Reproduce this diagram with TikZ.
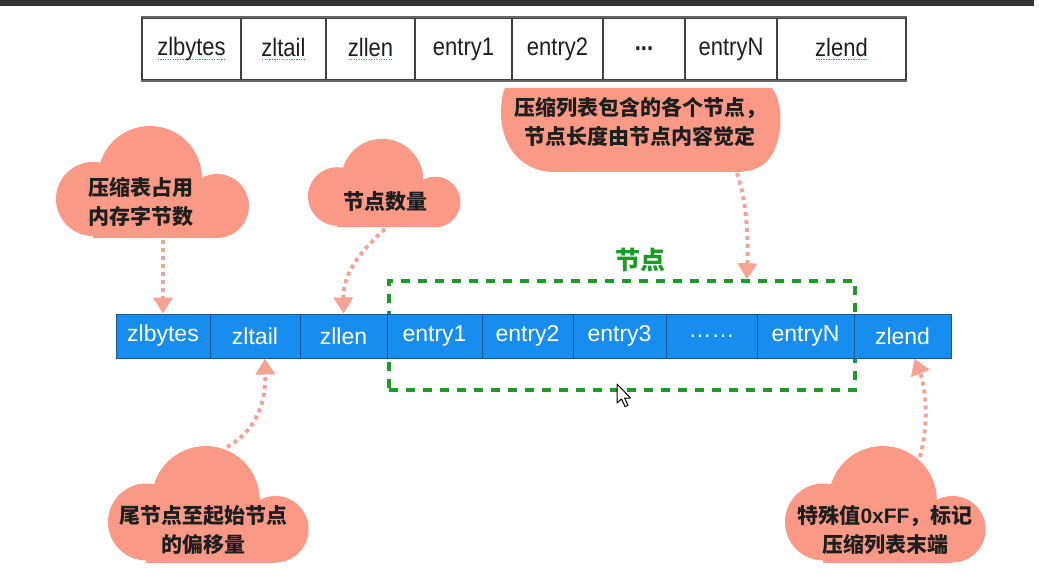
\documentclass[tikz,border=0pt]{standalone}
\usepackage{fontspec}
\setmainfont{Liberation Sans}
\newfontfamily\cjk{Noto Sans CJK SC}
\usetikzlibrary{arrows.meta}
\definecolor{salmon}{RGB}{250,154,134}
\definecolor{dotc}{RGB}{247,163,147}
\definecolor{barblue}{RGB}{24,141,240}
\definecolor{barline}{RGB}{22,88,150}
\definecolor{grpgreen}{RGB}{28,155,38}
\definecolor{txt}{RGB}{30,30,30}
\newcommand\sq[1]{\setbox0=\hbox{#1}\rlap{\color{red!75}\raisebox{-3.5pt}{\hbox to \wd0{\xleaders\hbox to 2.4pt{\hss\rule{1.2pt}{0.9pt}\hss}\hfill}}}\box0}
\newcommand\stretchtxt[1]{\scalebox{1}[1.15]{#1}}
\newcommand\mycloud[3]{%
  \begin{scope}[shift={(#1,#2)},scale=#3]
    \fill[salmon] (37,74) circle[radius=37pt];
    \fill[salmon] (161,81) circle[radius=32pt];
    \fill[salmon] (94,53) circle[radius=52pt];
    \fill[salmon] (37,60) rectangle (161,113);
  \end{scope}}
\begin{document}
\begin{tikzpicture}[x=1pt,y=-1pt,
  tcell/.style={draw=black!75, line width=1.5pt, minimum height=62pt, inner sep=0pt,
    font=\fontsize{22}{22}\selectfont, text=txt},
  bcell/.style={draw=barline, line width=1pt, fill=barblue, minimum height=44pt, inner sep=0pt,
    text=white, font=\fontsize{23}{23}\selectfont},
  ctext/.style={align=center, text=txt, font=\cjk\bfseries\fontsize{21}{29}\selectfont, inner sep=0pt},
  darrow/.style={dotc, line width=4pt, dash pattern=on 4pt off 4pt, -{Triangle[width=19pt,length=16pt]}},
  grpbox/.style={draw=grpgreen, line width=3.5pt, dash pattern=on 9pt off 8pt, inner sep=0pt,
    minimum width=466pt, minimum height=109pt}
]
\useasboundingbox (0,0) rectangle (1039,588);
\fill[white] (0,0) rectangle (1039,588);
% top strip
\fill[black!80] (0,0) rectangle (1034,6);

% top table
\node[tcell, minimum width=99pt] (t1) at (191.5,49) {\stretchtxt{\sq{zlbytes}}};
\node[tcell, minimum width=85pt] (t2) at (283.5,49) {\stretchtxt{\sq{zltail}}};
\node[tcell, minimum width=89pt] (t3) at (370.5,49) {\stretchtxt{\sq{zllen}}};
\node[tcell, minimum width=97pt] (t4) at (463.5,49) {\stretchtxt{entry1}};
\node[tcell, minimum width=91pt] (t5) at (557.5,49) {\stretchtxt{entry2}};
\node[tcell, minimum width=82pt] (t6) at (644,49) {\stretchtxt{\textbf{...}}};
\node[tcell, minimum width=92pt] (t7) at (731,49) {\stretchtxt{entryN}};
\node[tcell, minimum width=129pt] (t8) at (841.5,49) {\stretchtxt{\sq{zlend}}};
\draw[line width=2.2pt, black!60] (t1.north west) -- (t8.north east);
\draw[line width=2.2pt, black!60] (t1.south west) -- (t8.south east);

% clouds
\mycloud{56}{125}{1}
\mycloud{308}{138}{0.79}
\mycloud{108}{445}{1.04}
\mycloud{785}{445}{1.04}
% top blob
\fill[salmon] (505,88) -- (772,88) .. controls (782,100) and (782,125) .. (778,140)
  .. controls (772,162) and (760,172) .. (735,172) -- (555,172)
  .. controls (520,172) and (502,145) .. (501,115)
  .. controls (501,100) and (503,92) .. (505,88) -- cycle;

% group box
\node[grpbox] (grp) at (622,335.5) {};
\node[text=grpgreen, font=\cjk\bfseries\fontsize{25}{25}\selectfont, inner sep=0pt] (glab) at (640,260) {节点};

% bar
\node[bcell, minimum width=94pt] (c1) at (163,336) {zlbytes};
\node[bcell, minimum width=90pt] (c2) at (255,336) {zltail};
\node[bcell, minimum width=87pt] (c3) at (343.5,336) {zllen};
\node[bcell, minimum width=95pt] (c4) at (434.5,336) {entry1};
\node[bcell, minimum width=91pt] (c5) at (527.5,336) {entry2};
\node[bcell, minimum width=93pt] (c6) at (619.5,336) {entry3};
\node[bcell, minimum width=91pt] (c7) at (711.5,336) {……};
\node[bcell, minimum width=97pt] (c8) at (805.5,336) {entryN};
\node[bcell, minimum width=97pt] (c9) at (902.5,336) {zlend};

% cloud texts
\node[ctext] (n1) at (141,202) {压缩表占用\\内存字节数};
\node[ctext] (n2) at (385,202) {节点数量};
\node[ctext] (n3) at (203,530) {尾节点至起始节点\\的偏移量};
\node[ctext] (n4) at (885,530) {特殊值{\rmfamily\bfseries 0xFF}，标记\\压缩列表末端};
\node[ctext] (n5) at (640,122) {压缩列表包含的各个节点，\\节点长度由节点内容觉定};

% arrows
\coordinate (a1s) at (163,240);
\coordinate (a2s) at (385,229);
\coordinate (a3s) at (737,173);
\coordinate (a4s) at (227,447);
\coordinate (a5s) at (920,457);
\draw[darrow] (a1s) -- (c1.north);
\draw[darrow] (a2s) .. controls (362,250) and (343,272) .. (c3.north);
\draw[darrow] (a3s) .. controls (748,205) and (748,245) .. ([xshift=125pt]grp.north);
\draw[darrow] (a4s) .. controls (258,430) and (266,400) .. ([xshift=10pt]c2.south);
\draw[darrow] (a5s) .. controls (930,420) and (925,385) .. ([xshift=12pt]c9.south);

% mouse cursor
\draw[black, line width=1pt, fill=white, line join=round]
  (617,384) -- (617,403) -- (621.5,399) -- (625,406.5) -- (628,405.3) -- (624.6,398) -- (630.5,398) -- cycle;
\end{tikzpicture}
\end{document}
